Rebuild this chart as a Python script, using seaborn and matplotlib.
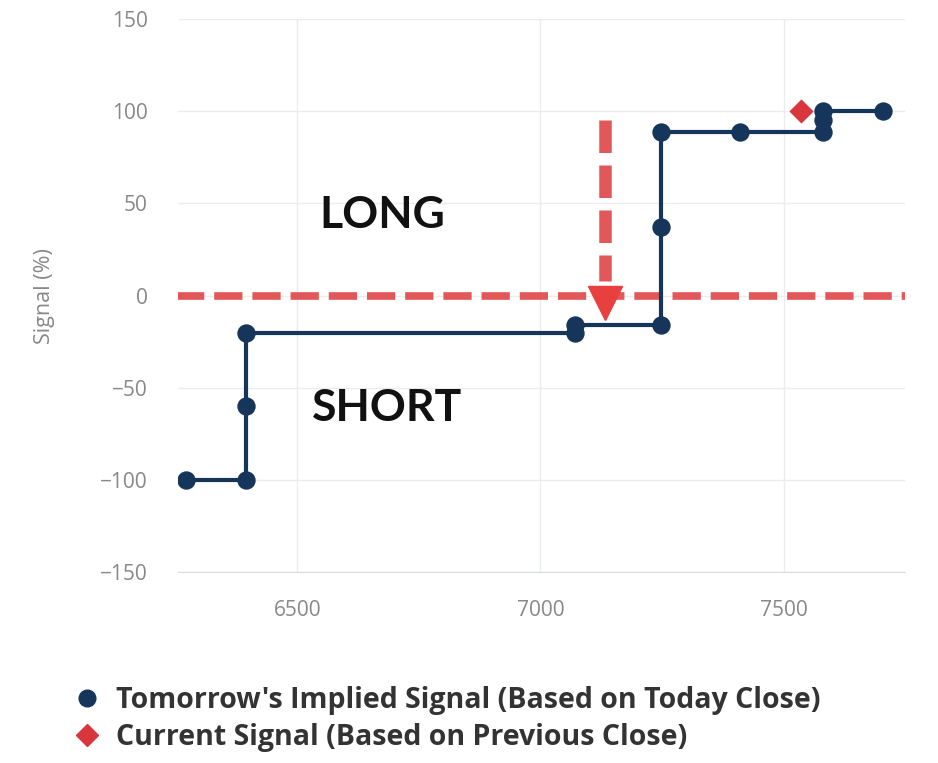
import matplotlib
matplotlib.use('Agg')
import matplotlib.pyplot as plt
import seaborn as sns
import pandas as pd
from matplotlib.lines import Line2D

# Data
signal_x = [6270, 6395, 6395, 6395, 7070, 7070, 7247, 7247, 7247, 7411, 7582, 7582, 7582, 7704]
signal_y = [-100, -100, -60, -20, -20, -16, -16, 37, 89, 89, 89, 95, 100, 100]
current_x = [7535]
current_y = [100]
arrow_x = 7132
arrow_top = 95
zero_level = 0
y_ticks = [-150, -100, -50, 0, 50, 100, 150]
x_ticks = [6500, 7000, 7500]

navy = '#15355a'
red = '#d8353c'
dash_red = '#e2575a'

sns.set_style('whitegrid')
plt.rcParams['font.family'] = ['Open Sans', 'DejaVu Sans']

fig = plt.figure(figsize=(9.38, 7.63), dpi=100)
ax = fig.add_axes([0.19, 0.25, 0.775, 0.725])

df = pd.DataFrame({'x': signal_x, 'y': signal_y})
sns.lineplot(data=df, x='x', y='y', sort=False, estimator=None, color=navy, lw=3, ax=ax, zorder=3)
sns.scatterplot(data=df, x='x', y='y', color=navy, s=150, edgecolor=navy, ax=ax, zorder=4)
sns.scatterplot(x=current_x, y=current_y, color=red, marker='D', s=130, edgecolor=red, ax=ax, zorder=5)

# zero line and arrow
ax.plot([6250, 7750], [zero_level, zero_level], color=dash_red, lw=5.5,
        dashes=(3.7, 1.3), zorder=2, solid_capstyle='butt')
ax.plot([arrow_x, arrow_x], [arrow_top, 8], color=dash_red, lw=9,
        dashes=(2.6, 1.0), zorder=2)
ax.plot([arrow_x], [-4], marker='v', markersize=24, color='#e8403f', zorder=3)

ax.text(6675, 44, 'LONG', fontsize=32, fontweight='bold', family=['Lato', 'DejaVu Sans'],
        ha='center', va='center', color='#111111')
ax.text(6685, -61, 'SHORT', fontsize=32, fontweight='bold', family=['Lato', 'DejaVu Sans'],
        ha='center', va='center', color='#111111')

ax.set_xlim(6255, 7750)
ax.set_ylim(-150, 150)
ax.set_xticks(x_ticks)
ax.set_yticks(y_ticks)
ax.set_yticklabels([str(t).replace('-', '\u2212') for t in y_ticks])
ax.tick_params(axis='both', labelsize=15, colors='#888888', length=0, pad=22)
ax.tick_params(axis='x', pad=20)
ax.set_xlabel('')
ax.set_ylabel('Signal (%)', fontsize=15.5, color='#888888', labelpad=32)
ax.grid(True, color='#ececec', lw=1)
for s in ['top', 'right', 'left']:
    ax.spines[s].set_visible(False)
ax.spines['bottom'].set_color('#d8dce6')

handles = [
    Line2D([], [], marker='o', ls='', color=navy, markersize=12),
    Line2D([], [], marker='D', ls='', color=red, markersize=11),
]
labels = ["Tomorrow's Implied Signal (Based on Today Close)",
          'Current Signal (Based on Previous Close)']
fig.legend(handles, labels, loc='upper left', bbox_to_anchor=(0.041, 0.135),
           frameon=False, handletextpad=0.24, handlelength=1.6, labelspacing=0.3,
           prop={'family': ['Open Sans', 'DejaVu Sans'], 'weight': 'bold', 'size': 20.5},
           labelcolor='#333333')

fig.savefig('out.png', dpi=100)
